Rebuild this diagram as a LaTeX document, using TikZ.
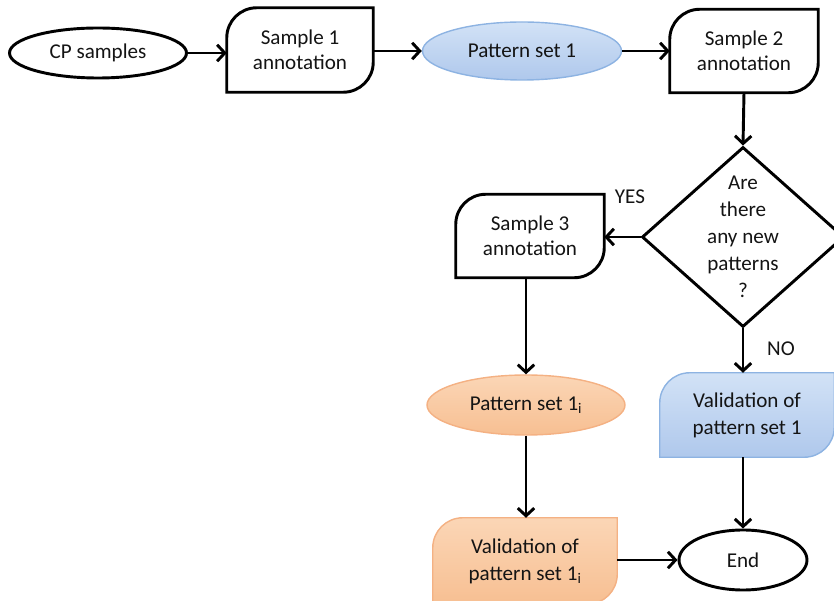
\documentclass[tikz,border=0pt]{standalone}
\usepackage{fontspec}
\setmainfont{Carlito}
\usetikzlibrary{shapes.geometric,arrows.meta,backgrounds}
\definecolor{bluetop}{HTML}{D2E2F6}
\definecolor{bluebot}{HTML}{AFC8EC}
\definecolor{blueline}{HTML}{8DB3E2}
\definecolor{orgtop}{HTML}{FBD6B6}
\definecolor{orgbot}{HTML}{F7BF92}
\definecolor{orgline}{HTML}{F4B183}
\definecolor{txt}{HTML}{141414}
\newcommand\mkleaf[2]{\path[#2] (#1.south west) -- ([yshift=-0.9cm]#1.north west) arc[start angle=180,end angle=90,radius=0.9cm] -- (#1.north east) -- ([yshift=0.9cm]#1.south east) arc[start angle=0,end angle=-90,radius=0.9cm] -- cycle;}
\begin{document}
\begin{tikzpicture}[x=0.03cm,y=-0.03cm,
  font=\fontsize{18}{21}\selectfont, text=txt,
  line/.style={line width=2.5pt, draw=black},
  arr/.style={line, -{Straight Barb[length=6.5pt,width=14pt]}},
  ell/.style={ellipse, inner sep=0pt, align=center},
  blk/.style={ell, line, fill=white},
  blueell/.style={ell, draw=blueline, line width=1.2pt, top color=bluetop, bottom color=bluebot},
  orgell/.style={ell, draw=orgline, line width=1.2pt, top color=orgtop, bottom color=orgbot},
  boxn/.style={inner sep=0pt, align=center},
  tall/.style={font=\fontsize{18}{23}\selectfont},
  whiteleaf/.style={line, fill=white},
  blueleaf/.style={draw=blueline, line width=1.2pt, top color=bluetop, bottom color=bluebot},
  orgleaf/.style={draw=orgline, line width=1.2pt, top color=orgtop, bottom color=orgbot}]
\useasboundingbox (0,0) rectangle (834,601);

\node[blk, minimum width=5.31cm, minimum height=1.5cm] (cp) at (98,53) {CP samples};
\node[boxn, minimum width=4.38cm, minimum height=2.52cm] (s1) at (300,50) {Sample 1\\annotation};
\node[blueell, minimum width=5.97cm, minimum height=1.74cm] (p1) at (522,51) {Pattern set 1};
\node[boxn, minimum width=4.44cm, minimum height=2.49cm] (s2) at (744,51) {Sample 2\\annotation};
\node[diamond, line, inner sep=0pt, minimum width=6.06cm, minimum height=5.4cm] (dq) at (743,237) {};
\node[align=center, tall] (dqt) at (743,237) {Are\\there\\any new\\patterns\\?};
\node[boxn, minimum width=4.44cm, minimum height=2.49cm] (s3) at (530,236) {Sample 3\\annotation};
\node[orgell, minimum width=5.94cm, minimum height=1.8cm] (p1i) at (526,405) {Pattern set 1\textsubscript{i}};
\node[boxn, tall, minimum width=5.22cm, minimum height=2.52cm] (v1) at (747,415) {Validation of\\pattern set 1};
\node[boxn, tall, minimum width=5.52cm, minimum height=2.58cm] (v1i) at (525,561) {Validation of\\pattern set 1\textsubscript{i}};
\node[blk, minimum width=3.84cm, minimum height=1.8cm] (end) at (743,560) {End};
\node (yes) at (630,197) {YES};
\node (no) at (781,349) {NO};

\begin{pgfonlayer}{background}
\mkleaf{s1}{whiteleaf}
\mkleaf{s2}{whiteleaf}
\mkleaf{s3}{whiteleaf}
\mkleaf{v1}{blueleaf}
\mkleaf{v1i}{orgleaf}
\end{pgfonlayer}

\draw[arr] (cp.east) -- (cp.east -| s1.west);
\draw[arr] (s1.east |- p1.west) -- (p1.west);
\draw[arr] (p1.east) -- (p1.east -| s2.west);
\draw[arr] (s2.south) -- (dq.north);
\draw[arr] (dq.west) -- (dq.west -| s3.east);
\draw[arr] (s3.south -| p1i.north) -- (p1i.north);
\draw[arr] (p1i.south) -- (p1i.south |- v1i.north);
\draw[arr] (dq.south) -- (dq.south |- v1.north);
\draw[arr] (v1.south -| end.north) -- (end.north);
\draw[arr] (v1i.east |- end.west) -- (end.west);
\end{tikzpicture}
\end{document}
